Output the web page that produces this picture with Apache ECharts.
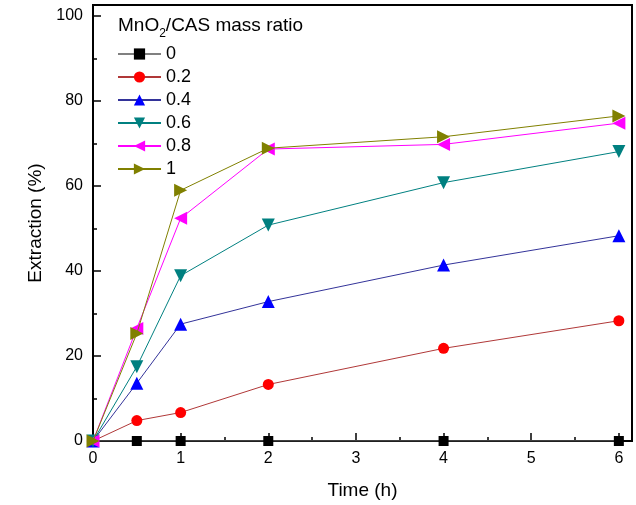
<!DOCTYPE html>
<html>
<head>
<meta charset="utf-8">
<script src="https://cdn.jsdelivr.net/npm/echarts@6/dist/echarts.min.js"></script>
<style>html,body{margin:0;padding:0;background:#fff}#c{width:636px;height:505px}</style>
</head>
<body>
<div id="c"></div>
<script>
const times = [0, 0.5, 1, 2, 4, 6];
const seriesNames = ['0', '0.2', '0.4', '0.6', '0.8', '1'];
const r0  = [0, 0, 0, 0, 0, 0];
const r02 = [0, 4.8, 6.7, 13.3, 21.8, 28.3];
const r04 = [0, 13.6, 27.5, 32.8, 41.4, 48.3];
const r06 = [0, 17.5, 38.9, 50.8, 60.8, 68.1];
const r08 = [0, 26.5, 52.4, 68.7, 69.8, 74.8];
const r1  = [0, 25.3, 59.0, 68.9, 71.6, 76.5];
const yTicks = [0, 20, 40, 60, 80, 100];
const yMinor = [10, 30, 50, 70, 90];
const xTicks = [0, 1, 2, 3, 4, 5, 6];
const xMinor = [0.5, 1.5, 2.5, 3.5, 4.5, 5.5];

const allData = [r0, r02, r04, r06, r08, r1];
const lineColors = ['#808080', '#b03838', '#333399', '#008080', '#ff00ff', '#808000'];
const markColors = ['#000000', '#ff0000', '#0000ff', '#008080', '#ff00ff', '#808000'];
const symbols = ['rect', 'circle', 'triangle', 'triangle', 'triangle', 'triangle'];
const rotations = [0, 0, 0, 180, 90, -90];
const sizes = [10, 11, 13, 13, 13, 13];

const font = 'Arial, "Liberation Sans", sans-serif';
const chart = echarts.init(document.getElementById('c'), null, {renderer: 'canvas'});
const X_MAX = 6.15, Y_MAX = 102.6;

const series = allData.map((d, i) => ({
  name: seriesNames[i],
  type: 'line',
  xAxisIndex: 0, yAxisIndex: 0,
  data: d.map((v, j) => [times[j], v]),
  symbol: symbols[i],
  symbolSize: sizes[i],
  symbolRotate: rotations[i],
  lineStyle: {color: lineColors[i], width: 1},
  itemStyle: {color: markColors[i]},
  z: 2 + i,
  animation: false
}));

chart.setOption({
  animation: false,
  grid: {left: 93, right: 4, top: 5, bottom: 64, show: true, borderColor: '#000', borderWidth: 2},
  xAxis: [{
    type: 'value', min: 0, max: X_MAX,
    axisLine: {show: true, onZero: false, lineStyle: {color: '#000', width: 2}},
    axisTick: {show: true, inside: true, length: 8, customValues: xTicks, lineStyle: {color: '#000', width: 1.5}},
    axisLabel: {show: true, customValues: xTicks, color: '#000', fontSize: 16, fontFamily: font, margin: 10},
    splitLine: {show: false},
    name: 'Time (h)', nameLocation: 'middle', nameGap: 40,
    nameTextStyle: {color: '#000', fontSize: 19, fontFamily: font}
  }, {
    type: 'value', min: 0, max: X_MAX, position: 'bottom',
    axisLine: {show: false},
    axisTick: {show: true, inside: true, length: 4, customValues: xMinor, lineStyle: {color: '#000', width: 1.5}},
    axisLabel: {show: false}, splitLine: {show: false}
  }],
  yAxis: [{
    type: 'value', min: 0, max: Y_MAX,
    axisLine: {show: true, onZero: false, lineStyle: {color: '#000', width: 2}},
    axisTick: {show: true, inside: true, length: 8, customValues: yTicks, lineStyle: {color: '#000', width: 1.5}},
    axisLabel: {show: true, customValues: yTicks, color: '#000', fontSize: 16, fontFamily: font, margin: 10},
    splitLine: {show: false},
    name: 'Extraction (%)', nameLocation: 'middle', nameGap: 48, nameRotate: 90,
    nameTextStyle: {color: '#000', fontSize: 19, fontFamily: font}
  }, {
    type: 'value', min: 0, max: Y_MAX, position: 'left',
    axisLine: {show: false},
    axisTick: {show: true, inside: true, length: 4, customValues: yMinor, lineStyle: {color: '#000', width: 1.5}},
    axisLabel: {show: false}, splitLine: {show: false}
  }],
  legend: {
    orient: 'vertical', left: 117, top: 45, padding: 0,
    itemWidth: 43, itemHeight: 14, itemGap: 5,
    data: seriesNames,
    textStyle: {color: '#000', fontSize: 18, fontFamily: font}
  },
  graphic: [{
    type: 'text', left: 118, top: 16,
    style: {
      text: '{a|MnO}{s|2}{a|/CAS mass ratio}',
      rich: {
        a: {fontSize: 19, fontFamily: font, fill: '#000', verticalAlign: 'bottom', padding: [0, 0, 5, 0]},
        s: {fontSize: 12, fontFamily: font, fill: '#000', verticalAlign: 'bottom'}
      }
    }
  }],
  series: series
});
</script>
</body>
</html>
